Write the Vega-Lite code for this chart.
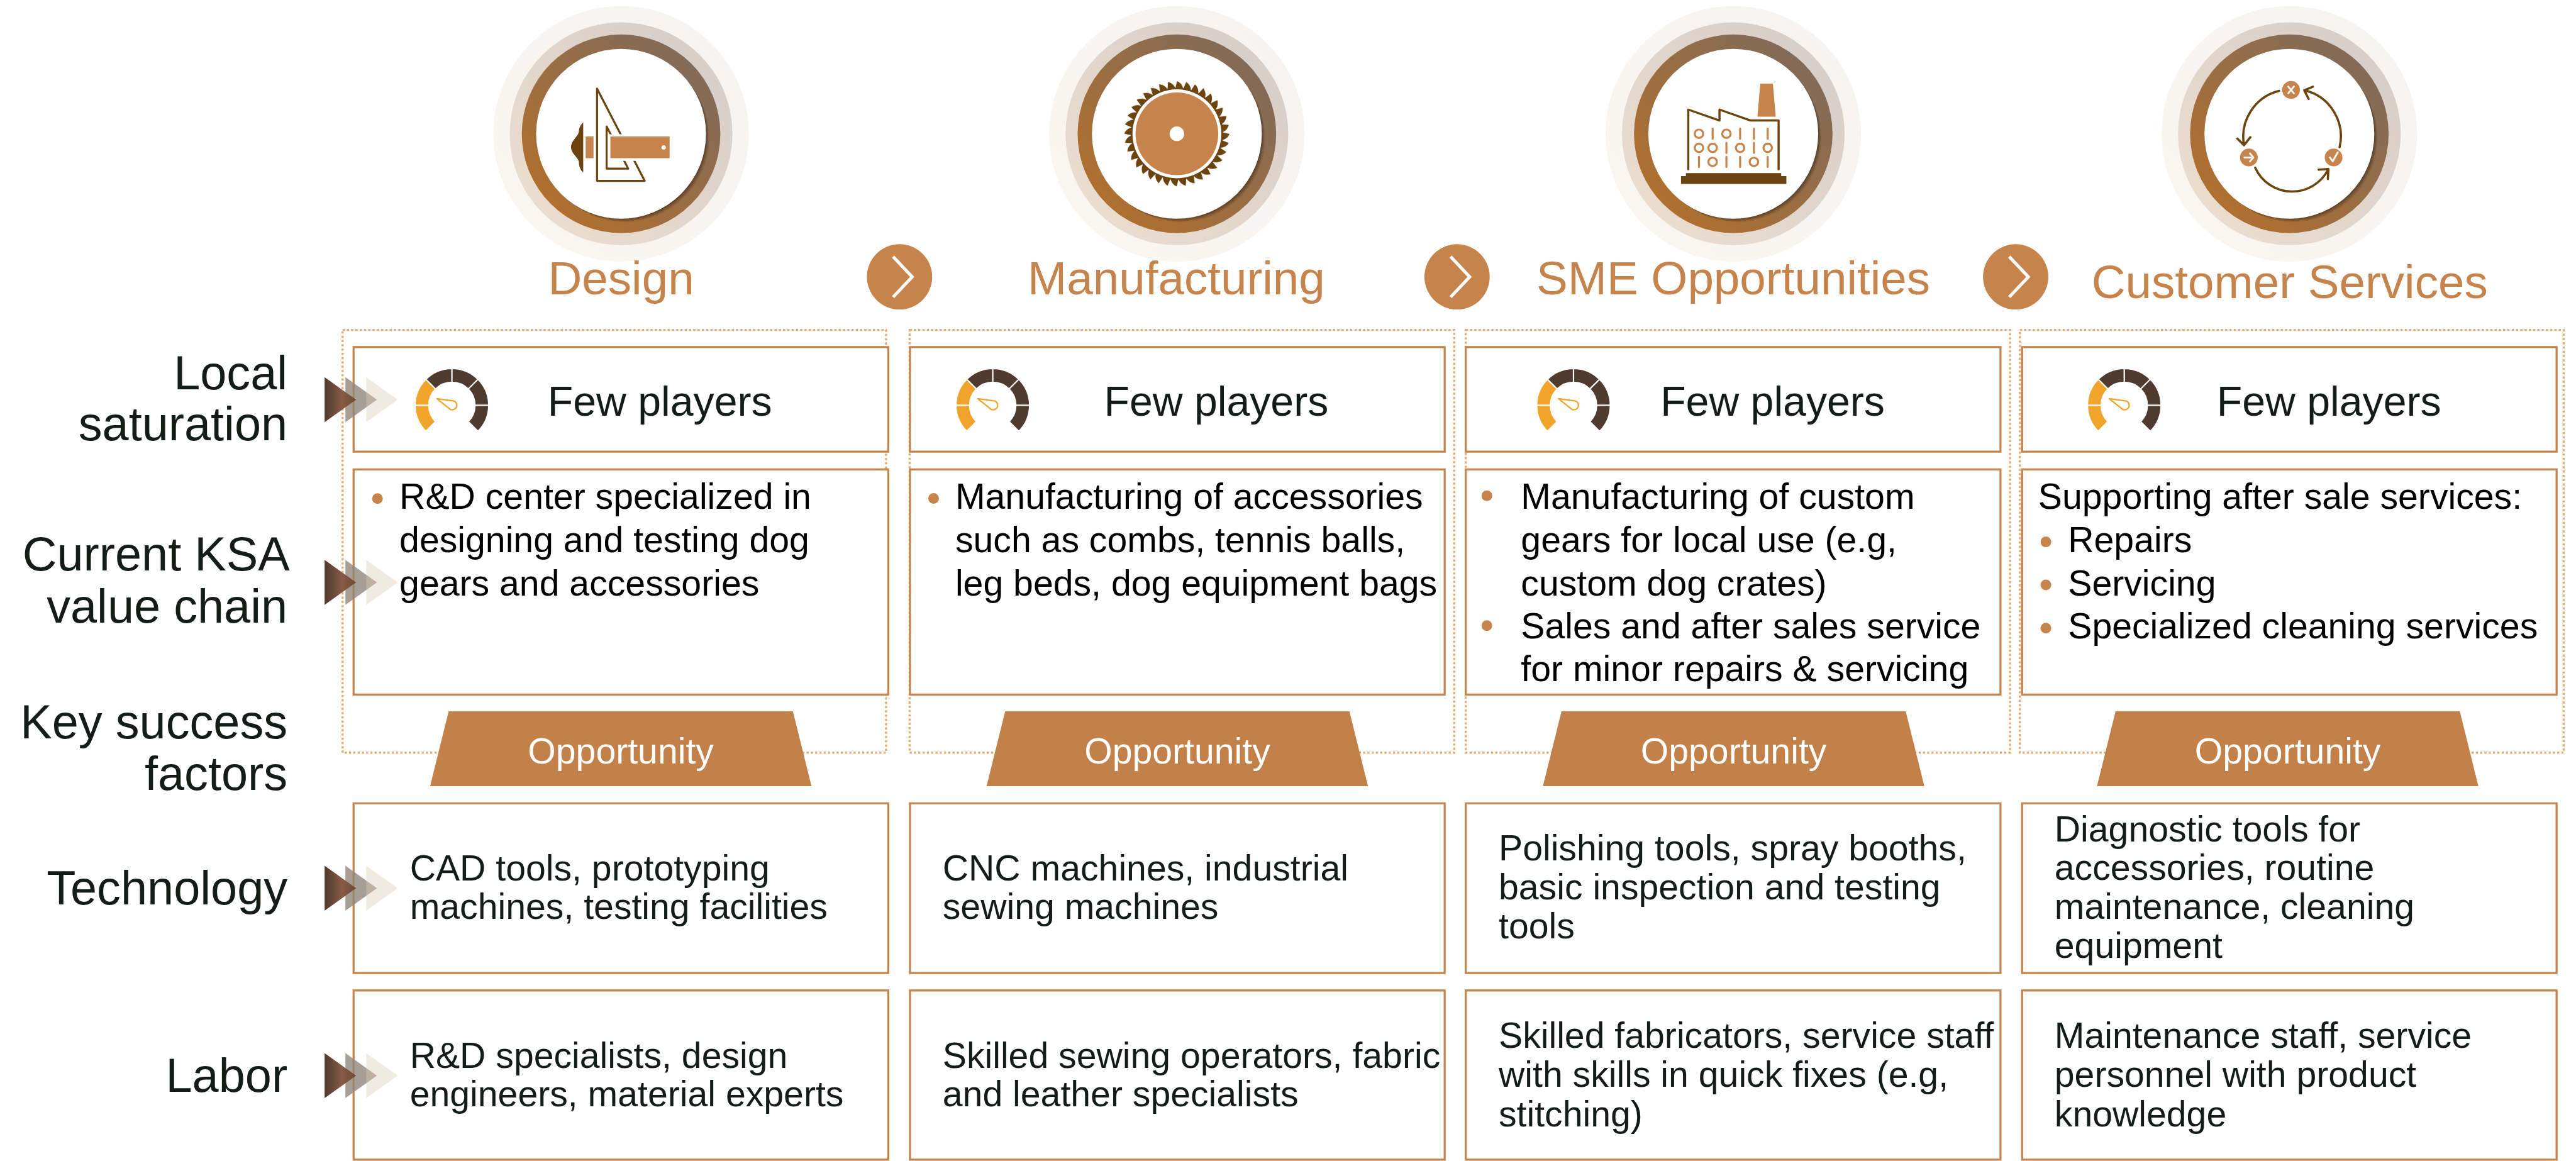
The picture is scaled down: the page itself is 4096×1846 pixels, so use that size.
{"$schema":"https://vega.github.io/schema/vega-lite/v6.json","width":4096,"height":1846,"autosize":{"type":"fit","contains":"padding"},"padding":0,"background":"white","config":{"view":{"stroke":null}},
"datasets":{
"stages":[{"stage":"Design","x":1104,"y":238},{"stage":"Manufacturing","x":2092,"y":238},{"stage":"SME Opportunities","x":3081,"y":238},{"stage":"Customer Services","x":4069.5,"y":238}],
"titles":[{"text":"Design","x":1104,"y":524},{"text":"Manufacturing","x":2091,"y":524},{"text":"SME Opportunities","x":3081,"y":524},{"text":"Customer Services","x":4070,"y":530}],
"links":[{"x":1599,"y":492.5},{"x":2590,"y":492.5},{"x":3583,"y":492.5}],
"frames":[{"x":609,"x2":1575,"y":587,"y2":1339},{"x":1617,"x2":2585,"y":587,"y2":1339},{"x":2605.5,"x2":3573,"y":587,"y2":1339},{"x":3590.5,"x2":4557,"y":587,"y2":1339}],
"boxes":[
{"x":628.5,"x2":1579,"y":617.5,"y2":803.5},{"x":1617.5,"x2":2568,"y":617.5,"y2":803.5},{"x":2605.5,"x2":3556,"y":617.5,"y2":803.5},{"x":3594.5,"x2":4544.5,"y":617.5,"y2":803.5},
{"x":628.5,"x2":1579,"y":835,"y2":1235.5},{"x":1617.5,"x2":2568,"y":835,"y2":1235.5},{"x":2605.5,"x2":3556,"y":835,"y2":1235.5},{"x":3594.5,"x2":4544.5,"y":835,"y2":1235.5},
{"x":628.5,"x2":1579,"y":1429,"y2":1731},{"x":1617.5,"x2":2568,"y":1429,"y2":1731},{"x":2605.5,"x2":3556,"y":1429,"y2":1731},{"x":3594.5,"x2":4544.5,"y":1429,"y2":1731},
{"x":628.5,"x2":1579,"y":1762,"y2":2063},{"x":1617.5,"x2":2568,"y":1762,"y2":2063},{"x":2605.5,"x2":3556,"y":1762,"y2":2063},{"x":3594.5,"x2":4544.5,"y":1762,"y2":2063}],
"banners":[{"text":"Opportunity","x":1103.5,"y":1332,"ty":1358.8},{"text":"Opportunity","x":2092.7,"y":1332,"ty":1358.8},{"text":"Opportunity","x":3081.6,"y":1332,"ty":1358.8},{"text":"Opportunity","x":4066.5,"y":1332,"ty":1358.8}],
"arrows":[{"x":577,"y":711},{"x":577,"y":1036},{"x":577,"y":1580},{"x":577,"y":1913.5}],
"gauges":[{"x":803.3,"y":721},{"x":1764.7,"y":721},{"x":2797,"y":721},{"x":3776,"y":721}],
"few":[{"text":"Few players","x":973.5,"y":739.5},{"text":"Few players","x":1962.5,"y":739.5},{"text":"Few players","x":2951.5,"y":739.5},{"text":"Few players","x":3940.5,"y":739.5}],
"labels":[{"text":"Local","x":511,"y":692},{"text":"saturation","x":511,"y":783},{"text":"Current KSA","x":515,"y":1015},{"text":"value chain","x":511,"y":1108},{"text":"Key success","x":511,"y":1314},{"text":"factors","x":511,"y":1405},{"text":"Technology","x":511,"y":1609},{"text":"Labor","x":511,"y":1942}],
"bullets":[{"x":671,"y":887},{"x":1659.5,"y":886.6},{"x":2643,"y":882},{"x":2643,"y":1113},{"x":3636.7,"y":964},{"x":3636.7,"y":1040.6},{"x":3636.7,"y":1117.4}],
"chain":[
{"text":"R&D center specialized in","x":710,"y":905},{"text":"designing and testing dog","x":710,"y":982},{"text":"gears and accessories","x":710,"y":1059},
{"text":"Manufacturing of accessories","x":1698,"y":905},{"text":"such as combs, tennis balls,","x":1698,"y":982},{"text":"leg beds, dog equipment bags","x":1698,"y":1059},
{"text":"Manufacturing of custom","x":2703.5,"y":905},{"text":"gears for local use (e.g,","x":2703.5,"y":982},{"text":"custom dog crates)","x":2703.5,"y":1059},{"text":"Sales and after sales service","x":2703.5,"y":1135.5},{"text":"for minor repairs & servicing","x":2703.5,"y":1212},
{"text":"Supporting after sale services:","x":3623,"y":905},{"text":"Repairs","x":3676,"y":982},{"text":"Servicing","x":3676,"y":1059},{"text":"Specialized cleaning services","x":3676,"y":1135.5}],
"factors":[
{"text":"CAD tools, prototyping","x":728.5,"y":1566},{"text":"machines, testing facilities","x":728.5,"y":1635},
{"text":"CNC machines, industrial","x":1675.5,"y":1566},{"text":"sewing machines","x":1675.5,"y":1635},
{"text":"Polishing tools, spray booths,","x":2664,"y":1531},{"text":"basic inspection and testing","x":2664,"y":1600},{"text":"tools","x":2664,"y":1669},
{"text":"Diagnostic tools for","x":3652,"y":1496.5},{"text":"accessories, routine","x":3652,"y":1565.5},{"text":"maintenance, cleaning","x":3652,"y":1635},{"text":"equipment","x":3652,"y":1704},
{"text":"R&D specialists, design","x":728.5,"y":1899.5},{"text":"engineers, material experts","x":728.5,"y":1968.5},
{"text":"Skilled sewing operators, fabric","x":1675.5,"y":1899.5},{"text":"and leather specialists","x":1675.5,"y":1968.5},
{"text":"Skilled fabricators, service staff","x":2664,"y":1864.5},{"text":"with skills in quick fixes (e.g,","x":2664,"y":1933.5},{"text":"stitching)","x":2664,"y":2003.5},
{"text":"Maintenance staff, service","x":3652,"y":1864.5},{"text":"personnel with product","x":3652,"y":1933.5},{"text":"knowledge","x":3652,"y":2003.5}]
},
"encoding":{"x":{"field":"x","type":"quantitative","scale":{"domain":[0,4579],"nice":false,"zero":false},"axis":null},"y":{"field":"y","type":"quantitative","scale":{"domain":[2062,0],"nice":false,"zero":false},"axis":null}},
"layer":[
{"data":{"name":"frames"},"mark":{"type":"rect","fillOpacity":0,"stroke":"#E7AC6F","strokeWidth":3.4,"strokeDash":[3.4,3.4]},"encoding":{"x2":{"field":"x2"},"y2":{"field":"y2"}}},
{"data":{"name":"stages"},"mark":{"type":"point","shape":"circle","size":164940,"filled":true,"opacity":1,"fill":{"gradient":"linear","x1":0,"y1":1,"x2":1,"y2":0,"stops":[{"offset":0,"color":"#FAF6F1"},{"offset":1,"color":"#F5F4F2"}]}}},
{"data":{"name":"stages"},"mark":{"type":"point","shape":"circle","size":125470,"filled":true,"opacity":1,"fill":{"gradient":"linear","x1":0,"y1":1,"x2":1,"y2":0,"stops":[{"offset":0,"color":"#EEDFD0"},{"offset":1,"color":"#D4CCC7"}]}}},
{"data":{"name":"stages"},"mark":{"type":"point","shape":"circle","size":99700,"filled":true,"opacity":1,"fill":{"gradient":"linear","x1":0,"y1":1,"x2":1,"y2":0,"stops":[{"offset":0.1,"color":"#B2702C"},{"offset":0.95,"color":"#7C6A5E"}]}}},
{"data":{"name":"stages"},"mark":{"type":"point","shape":"circle","size":72000,"filled":true,"opacity":0.12,"fill":"#2E2014","xOffset":6,"yOffset":6}},
{"data":{"name":"stages"},"mark":{"type":"point","shape":"circle","size":72000,"filled":true,"opacity":0.16,"fill":"#2E2014","xOffset":4.5,"yOffset":4.5}},
{"data":{"name":"stages"},"mark":{"type":"point","shape":"circle","size":72000,"filled":true,"opacity":0.2,"fill":"#2E2014","xOffset":3,"yOffset":3}},
{"data":{"name":"stages"},"mark":{"type":"point","shape":"circle","size":72000,"filled":true,"opacity":0.3,"fill":"#2E2014","xOffset":1.5,"yOffset":1.5}},
{"data":{"name":"stages"},"mark":{"type":"point","shape":"circle","size":72970,"filled":true,"opacity":1,"fill":"#FFFFFF"}},

{"data":{"name":"stages"},"transform":[{"filter":"datum.stage==='Design'"}],"mark":{"type":"point","shape":"M-67.3,-20.3C-72,-16 -75,-10 -75,-4C-76,4 -89,12 -89,23.7C-89,35 -76,42 -75,50C-75,58 -72,65 -67.3,68.7Z","size":3.2,"filled":true,"opacity":1,"fill":"#6B4410"}},
{"data":{"name":"stages"},"transform":[{"filter":"datum.stage==='Design'"}],"mark":{"type":"point","shape":"M-42.7,-80.3L-42.7,83.7L42,83.7ZM-25.7,-13L-25.7,62L12.7,62Z","size":3.2,"filled":false,"opacity":1,"stroke":"#6B4410","strokeWidth":3.2,"strokeJoin":"round"}},
{"data":{"name":"stages"},"transform":[{"filter":"datum.stage==='Design'"}],"mark":{"type":"point","shape":"M-21.7,1L29.3,1L29.3,48L-21.7,48Z","size":3.2,"filled":true,"opacity":1,"fill":"#FFFFFF"}},
{"data":{"name":"stages"},"transform":[{"filter":"datum.stage==='Design'"}],"mark":{"type":"point","shape":"M-63,4.7L-49,4.7L-49,43.3L-63,43.3ZM-19,4.7L86.3,4.7L86.3,43.3L-19,43.3Z","size":3.2,"filled":true,"opacity":1,"fill":"#C6834B"}},
{"data":{"name":"stages"},"transform":[{"filter":"datum.stage==='Design'"}],"mark":{"type":"point","shape":"M71.7,24.3A4,4 0 1 1 79.7,24.3A4,4 0 1 1 71.7,24.3Z","size":3.2,"filled":true,"opacity":1,"fill":"#FFFFFF"}},

{"data":{"name":"stages"},"transform":[{"filter":"datum.stage==='Manufacturing'"}],"mark":{"type":"point","shape":"M0,-94A18,18 0 0 1 11.4,-81.2L16.3,-92.6A18,18 0 0 1 25.3,-78L32.1,-88.3A18,18 0 0 1 38.5,-72.4L47,-81.4A18,18 0 0 1 50.5,-64.6L60.4,-72A18,18 0 0 1 60.9,-54.9L72,-60.4A18,18 0 0 1 69.5,-43.5L81.4,-47A18,18 0 0 1 76,-30.7L88.3,-32.1A18,18 0 0 1 80.2,-17L92.6,-16.3A18,18 0 0 1 82,-2.9L94,0A18,18 0 0 1 81.2,11.4L92.6,16.3A18,18 0 0 1 78,25.3L88.3,32.1A18,18 0 0 1 72.4,38.5L81.4,47A18,18 0 0 1 64.6,50.5L72,60.4A18,18 0 0 1 54.9,60.9L60.4,72A18,18 0 0 1 43.5,69.5L47,81.4A18,18 0 0 1 30.7,76L32.1,88.3A18,18 0 0 1 17,80.2L16.3,92.6A18,18 0 0 1 2.9,82L0,94A18,18 0 0 1 -11.4,81.2L-16.3,92.6A18,18 0 0 1 -25.3,78L-32.1,88.3A18,18 0 0 1 -38.5,72.4L-47,81.4A18,18 0 0 1 -50.5,64.6L-60.4,72A18,18 0 0 1 -60.9,54.9L-72,60.4A18,18 0 0 1 -69.5,43.5L-81.4,47A18,18 0 0 1 -76,30.7L-88.3,32.1A18,18 0 0 1 -80.2,17L-92.6,16.3A18,18 0 0 1 -82,2.9L-94,0A18,18 0 0 1 -81.2,-11.4L-92.6,-16.3A18,18 0 0 1 -78,-25.3L-88.3,-32.1A18,18 0 0 1 -72.4,-38.5L-81.4,-47A18,18 0 0 1 -64.6,-50.5L-72,-60.4A18,18 0 0 1 -54.9,-60.9L-60.4,-72A18,18 0 0 1 -43.5,-69.5L-47,-81.4A18,18 0 0 1 -30.7,-76L-32.1,-88.3A18,18 0 0 1 -17,-80.2L-16.3,-92.6A18,18 0 0 1 -2.9,-82Z","size":3.2,"filled":true,"opacity":1,"fill":"#6B4410","stroke":"#FFFFFF","strokeWidth":0.7}},
{"data":{"name":"stages"},"transform":[{"filter":"datum.stage==='Manufacturing'"}],"mark":{"type":"point","shape":"circle","size":19975,"filled":true,"opacity":1,"fill":"#FFFFFF"}},
{"data":{"name":"stages"},"transform":[{"filter":"datum.stage==='Manufacturing'"}],"mark":{"type":"point","shape":"circle","size":17290,"filled":true,"opacity":1,"fill":"#C6834B"}},
{"data":{"name":"stages"},"transform":[{"filter":"datum.stage==='Manufacturing'"}],"mark":{"type":"point","shape":"circle","size":541,"filled":true,"opacity":1,"fill":"#FFFFFF"}},

{"data":{"name":"stages"},"transform":[{"filter":"datum.stage==='SME Opportunities'"}],"mark":{"type":"point","shape":"M48,-89L70.4,-89L75.5,-30.3L42.9,-30.3Z","size":3.2,"filled":true,"opacity":1,"fill":"#C6834B"}},
{"data":{"name":"stages"},"transform":[{"filter":"datum.stage==='SME Opportunities'"}],"mark":{"type":"point","shape":"M-80,64.7L-80,-43L-24.5,-23.7L-24.5,-43L30.6,-23.7L80.6,-23.7L80.6,64.7","size":3.2,"filled":false,"opacity":1,"stroke":"#6B4410","strokeWidth":3.4,"strokeJoin":"round"}},
{"data":{"name":"stages"},"transform":[{"filter":"datum.stage==='SME Opportunities'"}],"mark":{"type":"point","shape":"M-84.2,70L85.2,70L85.2,75.3L94.4,75.3L94.4,89.3L-92.9,89.3L-92.9,75.3L-84.2,75.3Z","size":3.2,"filled":true,"opacity":1,"fill":"#6B4410"}},
{"data":{"name":"stages"},"transform":[{"filter":"datum.stage==='SME Opportunities'"}],"mark":{"type":"point","shape":"M-68.5,0A7.5,7.5 0 1 1 -53.5,0A7.5,7.5 0 1 1 -68.5,0M-36.7,-9L-36.7,9M-19.7,0A7.5,7.5 0 1 1 -4.7,0A7.5,7.5 0 1 1 -19.7,0M12.2,-9L12.2,9M36.7,-9L36.7,9M61.2,-9L61.2,9M-68.5,25A7.5,7.5 0 1 1 -53.5,25A7.5,7.5 0 1 1 -68.5,25M-44.2,25A7.5,7.5 0 1 1 -29.2,25A7.5,7.5 0 1 1 -44.2,25M-12.2,16L-12.2,34M4.7,25A7.5,7.5 0 1 1 19.7,25A7.5,7.5 0 1 1 4.7,25M36.7,16L36.7,34M53.7,25A7.5,7.5 0 1 1 68.7,25A7.5,7.5 0 1 1 53.7,25M-61,41L-61,59M-44.2,50A7.5,7.5 0 1 1 -29.2,50A7.5,7.5 0 1 1 -44.2,50M-12.2,41L-12.2,59M12.2,41L12.2,59M29.2,50A7.5,7.5 0 1 1 44.2,50A7.5,7.5 0 1 1 29.2,50M61.2,41L61.2,59","size":3.2,"filled":false,"opacity":1,"stroke":"#C6834B","strokeWidth":3.2,"strokeCap":"round"}},

{"data":{"name":"stages"},"transform":[{"filter":"datum.stage==='Customer Services'"}],"mark":{"type":"point","shape":"M-18.4,-76.3A84,84 0 0 0 -80.6,20.3M-92.3,8.7L-80.6,20.3L-69.4,6M89.3,23.7A84,84 0 0 0 26.5,-77.3M41.8,-83.7L26.5,-77.3L34.2,-62M-60.7,60.3A72,72 0 0 0 69.4,62.7M52,63.7L69.4,62.7L68.4,80.3","size":3.2,"filled":false,"opacity":1,"stroke":"#6B4410","strokeWidth":3.6,"strokeCap":"round","strokeJoin":"round"}},
{"data":{"name":"stages"},"transform":[{"filter":"datum.stage==='Customer Services'"}],"mark":{"type":"point","shape":"M-12.8,-78A15.8,15.8 0 1 1 18.8,-78A15.8,15.8 0 1 1 -12.8,-78ZM-87.8,42A15.8,15.8 0 1 1 -56.2,42A15.8,15.8 0 1 1 -87.8,42ZM62.8,42A15.8,15.8 0 1 1 94.4,42A15.8,15.8 0 1 1 62.8,42Z","size":3.2,"filled":true,"opacity":1,"fill":"#C6834B"}},
{"data":{"name":"stages"},"transform":[{"filter":"datum.stage==='Customer Services'"}],"mark":{"type":"point","shape":"M-2,-84L8,-72M8,-84L-2,-72M-80,42L-64,42M-70,35L-64,42L-70,49M72,42L77,49L86,33","size":3.2,"filled":false,"opacity":1,"stroke":"#FFFFFF","strokeWidth":2.8,"strokeCap":"round","strokeJoin":"round"}},

{"data":{"name":"titles"},"mark":{"type":"text","font":"Liberation Sans","fontSize":74.6,"align":"center","baseline":"alphabetic","color":"#C6834B"},"encoding":{"text":{"field":"text"}}},
{"data":{"name":"links"},"mark":{"type":"point","shape":"circle","size":10767,"filled":true,"opacity":1,"fill":"#C6834B"}},
{"data":{"name":"links"},"mark":{"type":"point","shape":"M-11.5,-36L22.5,0L-11.5,36","size":3.2,"filled":false,"opacity":1,"stroke":"#FFFFFF","strokeWidth":5}},
{"data":{"name":"boxes"},"mark":{"type":"rect","fill":"#FFFFFF","stroke":"#C6834B","strokeWidth":3.2},"encoding":{"x2":{"field":"x2"},"y2":{"field":"y2"}}},
{"data":{"name":"banners"},"mark":{"type":"point","shape":"M-306,-66.5L306,-66.5L339,66.5L-339,66.5Z","size":3.2,"filled":true,"opacity":1,"fill":"#C38149"}},
{"data":{"name":"banners"},"mark":{"type":"text","font":"Liberation Sans","fontSize":57.2,"align":"center","baseline":"alphabetic","color":"#FFFFFF"},"encoding":{"text":{"field":"text"},"y":{"field":"ty","type":"quantitative"}}},
{"data":{"name":"arrows"},"mark":{"type":"point","shape":"M37,-40L93,0L37,40Z","size":3.2,"filled":true,"opacity":0.8,"fill":"#91867A"}},
{"data":{"name":"arrows"},"mark":{"type":"point","shape":"M74,-40L130,0L74,40Z","size":3.2,"filled":true,"opacity":0.42,"fill":"#DDCDBB"}},
{"data":{"name":"arrows"},"mark":{"type":"point","shape":"M0,-40L56,0L0,40Z","size":3.2,"filled":true,"opacity":1,"fill":{"gradient":"linear","x1":0,"y1":0,"x2":1,"y2":0,"stops":[{"offset":0,"color":"#4E3A2F"},{"offset":0.55,"color":"#875A45"},{"offset":1,"color":"#6E4A39"}]}}},
{"data":{"name":"gauges"},"mark":{"type":"point","shape":"M-46.3,46.3A65.5,65.5 0 0 1 -65.5,0L-41,0A41,41 0 0 0 -29,29ZM-65.5,0A65.5,65.5 0 0 1 -46.3,-46.3L-29,-29A41,41 0 0 0 -41,0Z","size":3.2,"filled":true,"opacity":1,"fill":"#F0A42C","stroke":"#FFFFFF","strokeWidth":2.2}},
{"data":{"name":"gauges"},"mark":{"type":"point","shape":"M-46.3,-46.3A65.5,65.5 0 0 1 0,-65.5L0,-41A41,41 0 0 0 -29,-29ZM0,-65.5A65.5,65.5 0 0 1 46.3,-46.3L29,-29A41,41 0 0 0 0,-41ZM46.3,-46.3A65.5,65.5 0 0 1 65.5,0L41,0A41,41 0 0 0 29,-29ZM65.5,0A65.5,65.5 0 0 1 46.3,46.3L29,29A41,41 0 0 0 41,0Z","size":3.2,"filled":true,"opacity":1,"fill":"#4E3A2E","stroke":"#FFFFFF","strokeWidth":2.2}},
{"data":{"name":"gauges"},"mark":{"type":"point","shape":"M-26.7,-11.7L2,-8A8,8 0 1 1 -5,5.5Z","size":3.2,"filled":false,"opacity":1,"stroke":"#F0A42C","strokeWidth":2.3,"strokeJoin":"round"}},
{"data":{"name":"few"},"mark":{"type":"text","font":"Liberation Sans","fontSize":66.2,"align":"left","baseline":"alphabetic","color":"#141C17"},"encoding":{"text":{"field":"text"}}},
{"data":{"name":"labels"},"mark":{"type":"text","font":"Liberation Sans","fontSize":75.7,"align":"right","baseline":"alphabetic","color":"#141C17"},"encoding":{"text":{"field":"text"}}},
{"data":{"name":"bullets"},"mark":{"type":"point","shape":"circle","size":289,"filled":true,"opacity":1,"fill":"#C6834B"}},
{"data":{"name":"chain"},"mark":{"type":"text","font":"Liberation Sans","fontSize":57.2,"align":"left","baseline":"alphabetic","color":"#000000"},"encoding":{"text":{"field":"text"}}},
{"data":{"name":"factors"},"mark":{"type":"text","font":"Liberation Sans","fontSize":57.2,"align":"left","baseline":"alphabetic","color":"#141C17"},"encoding":{"text":{"field":"text"}}}
]}
